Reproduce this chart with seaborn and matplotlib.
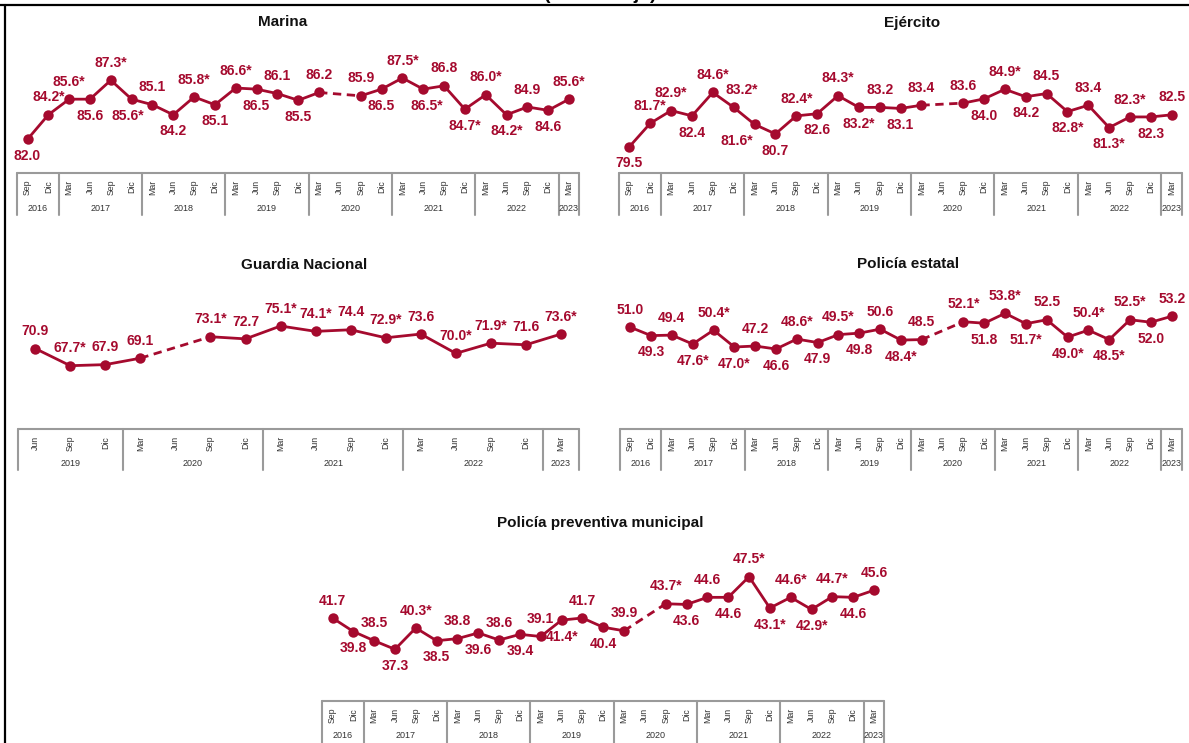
import matplotlib
matplotlib.use("Agg")
import matplotlib.pyplot as plt
import seaborn as sns
import pandas as pd
from matplotlib.lines import Line2D

# ---------------- data ----------------
months_long = ['Sep', 'Dic',
               'Mar', 'Jun', 'Sep', 'Dic',
               'Mar', 'Jun', 'Sep', 'Dic',
               'Mar', 'Jun', 'Sep', 'Dic',
               'Mar', 'Jun', 'Sep', 'Dic',
               'Mar', 'Jun', 'Sep', 'Dic',
               'Mar', 'Jun', 'Sep', 'Dic',
               'Mar']
years_long = ['2016', '2017', '2018', '2019', '2020', '2021', '2022', '2023']
year_quarters_long = [2, 4, 4, 4, 4, 4, 4, 1]

months_gn = ['Jun', 'Sep', 'Dic',
             'Mar', 'Jun', 'Sep', 'Dic',
             'Mar', 'Jun', 'Sep', 'Dic',
             'Mar', 'Jun', 'Sep', 'Dic',
             'Mar']
years_gn = ['2019', '2020', '2021', '2022', '2023']
year_quarters_gn = [3, 4, 4, 4, 1]

marina_vals = [82.0, 84.2, 85.6, 85.6, 87.3, 85.6, 85.1, 84.2, 85.8, 85.1, 86.6, 86.5, 86.1,
               85.5, 86.2, None, 85.9, 86.5, 87.5, 86.5, 86.8, 84.7, 86.0, 84.2, 84.9, 84.6, 85.6]
marina_sig = [0, 1, 1, 0, 1, 1, 0, 0, 1, 0, 1, 0, 0, 0, 0, 0, 0, 0, 1, 1, 0, 1, 1, 1, 0, 0, 1]

ejercito_vals = [79.5, 81.7, 82.9, 82.4, 84.6, 83.2, 81.6, 80.7, 82.4, 82.6, 84.3, 83.2, 83.2,
                 83.1, 83.4, None, 83.6, 84.0, 84.9, 84.2, 84.5, 82.8, 83.4, 81.3, 82.3, 82.3, 82.5]
ejercito_sig = [0, 1, 1, 0, 1, 1, 1, 0, 1, 0, 1, 1, 0, 0, 0, 0, 0, 0, 1, 0, 0, 1, 0, 1, 1, 0, 0]

guardia_vals = [70.9, 67.7, 67.9, 69.1, None, 73.1, 72.7, 75.1, 74.1, 74.4, 72.9, 73.6, 70.0,
                71.9, 71.6, 73.6]
guardia_sig = [0, 1, 0, 0, 0, 1, 0, 1, 1, 0, 1, 0, 1, 1, 0, 1]

estatal_vals = [51.0, 49.3, 49.4, 47.6, 50.4, 47.0, 47.2, 46.6, 48.6, 47.9, 49.5, 49.8, 50.6,
                48.4, 48.5, None, 52.1, 51.8, 53.8, 51.7, 52.5, 49.0, 50.4, 48.5, 52.5, 52.0, 53.2]
estatal_sig = [0, 0, 0, 1, 1, 1, 0, 0, 1, 0, 1, 0, 0, 1, 0, 0, 1, 0, 1, 1, 0, 1, 1, 1, 1, 0, 0]

municipal_vals = [41.7, 39.8, 38.5, 37.3, 40.3, 38.5, 38.8, 39.6, 38.6, 39.4, 39.1, 41.4, 41.7,
                  40.4, 39.9, None, 43.7, 43.6, 44.6, 44.6, 47.5, 43.1, 44.6, 42.9, 44.7, 44.6, 45.6]
municipal_sig = [0, 0, 0, 0, 1, 0, 0, 0, 0, 0, 0, 1, 0, 0, 0, 0, 1, 0, 0, 0, 1, 1, 1, 1, 1, 0, 0]

# ---------------- style ----------------
RED = '#A50A2E'
GRID = '#9a9a9a'
W, H = 1189, 743

sns.set_theme(style='white')
plt.rcParams['font.family'] = ['Liberation Sans', 'DejaVu Sans']

# label placement (a = above, b = below) and horizontal nudges (px)
side_marina = ['b', 'a', 'a', 'b', 'a', 'b', 'a', 'b', 'a', 'b', 'a', 'b', 'a', 'b', 'a', '-',
               'a', 'b', 'a', 'b', 'a', 'b', 'a', 'b', 'a', 'b', 'a']
side_ejercito = ['b', 'a', 'a', 'b', 'a', 'a', 'b', 'b', 'a', 'b', 'a', 'b', 'a', 'b', 'a', '-',
                 'a', 'b', 'a', 'b', 'a', 'b', 'a', 'b', 'a', 'b', 'a']
side_guardia = ['a'] * 16
side_alt = ['a', 'b', 'a', 'b', 'a', 'b', 'a', 'b', 'a', 'b', 'a', 'b', 'a', 'b', 'a', '-',
            'a', 'b', 'a', 'b', 'a', 'b', 'a', 'b', 'a', 'b', 'a']
dx_ejercito = {5: 8, 6: -18}
dx_marina = {5: -4, 19: 4}

fig = plt.figure(figsize=(W / 100, H / 100), dpi=100)


def frac_ax(left, top, right, bottom):
    return fig.add_axes([left / W, 1 - bottom / H, (right - left) / W, (bottom - top) / H])


def panel(title, title_xy, vals, sig, sides, months, years, yq, x0, x1, ref_a, ref_b,
          ax_top, tab_top, tab_bot, dx=None):
    n = len(vals)
    slot = (x1 - x0) / (n - 1)
    left, right = x0 - slot / 2, x1 + slot / 2
    # value -> pixel mapping
    (va, ya), (vb, yb) = ref_a, ref_b
    ppu = (yb - ya) / (va - vb)
    ymax = va + (ya - ax_top) / ppu
    ymin = vb - (tab_top - yb) / ppu
    ax = frac_ax(left, ax_top, right, tab_top)
    df = pd.DataFrame({'pos': list(range(n)), 'val': vals})
    gap = [i for i, v in enumerate(vals) if v is None][0]
    for seg in (df.iloc[:gap], df.iloc[gap + 1:]):
        sns.lineplot(data=seg, x='pos', y='val', ax=ax, color=RED, linewidth=2.0,
                     marker='o', markersize=7.5, markeredgewidth=0, estimator=None)
    bridge = df.iloc[[gap - 1, gap + 1]]
    sns.lineplot(data=bridge, x='pos', y='val', ax=ax, color=RED, linewidth=2.0,
                 linestyle=(0, (3, 2)), estimator=None)
    for i, (v, s, sd) in enumerate(zip(vals, sig, sides)):
        if v is None:
            continue
        txt = f'{v:.1f}' + ('*' if s else '')
        off = 12.5 if sd == 'a' else -12.0
        ddx = (dx or {}).get(i, 0) * 0.72
        ax.annotate(txt, (i, v), xytext=(ddx, off), textcoords='offset points',
                    ha='center', va='center', fontsize=10, fontweight='bold', color=RED)
    ax.set_xlim(-0.5, n - 0.5)
    ax.set_ylim(ymin, ymax)
    ax.axis('off')

    # category table
    tab = frac_ax(left, tab_top, right, tab_bot)
    tab.set_xlim(-0.5, n - 0.5)
    tab.set_ylim(1, 0)
    tab.axis('off')
    tab.plot([-0.5, n - 0.5], [0, 0], color=GRID, lw=1.5, clip_on=False)
    hgt = tab_bot - tab_top
    for i, m in enumerate(months):
        tab.text(i, 14 / hgt, m, rotation=90, ha='center', va='center',
                 fontsize=6.3, color='#333333')
    start = -0.5
    tab.plot([start, start], [0, 1], color=GRID, lw=1.5, clip_on=False)
    for y, q in zip(years, yq):
        end = start + q
        tab.plot([end, end], [0, 1], color=GRID, lw=1.5, clip_on=False)
        tab.text((start + end) / 2, 35 / hgt, y, ha='center', va='center',
                 fontsize=6.5, color='#333333')
        start = end
    fig.text(title_xy[0] / W, 1 - title_xy[1] / H, title, ha='center', va='center',
             fontsize=11, fontweight='bold', color='#111111')


panel('Marina', (283, 22), marina_vals, marina_sig, side_marina, months_long, years_long,
      year_quarters_long, 27.5, 569, (87.5, 78), (82.0, 139.3), 35, 173, 215, dx=dx_marina)
panel('Ejército', (912, 23), ejercito_vals, ejercito_sig, side_ejercito, months_long,
      years_long, year_quarters_long, 629.4, 1171.7, (84.9, 89.3), (79.5, 146.7), 35, 173, 215,
      dx=dx_ejercito)
panel('Guardia Nacional', (304, 265), guardia_vals, guardia_sig, side_guardia, months_gn,
      years_gn, year_quarters_gn, 35.2, 561, (75.1, 326), (67.7, 365.7), 280, 429, 470)
panel('Policía estatal', (908, 264), estatal_vals, estatal_sig, side_alt, months_long,
      years_long, year_quarters_long, 630.2, 1171.7, (53.8, 313.3), (46.6, 349), 280, 429, 470)
panel('Policía preventiva municipal', (600, 523), municipal_vals, municipal_sig, side_alt,
      months_long, years_long, year_quarters_long, 332.5, 874, (47.5, 576.7), (37.3, 649.3),
      540, 701, 744)

# frame lines and the heading that the reference shows clipped at the top edge
fig.add_artist(Line2D([0, 1], [1 - 5 / H, 1 - 5 / H], color='black', lw=1.6))
fig.add_artist(Line2D([5 / W, 5 / W], [0, 1 - 5 / H], color='black', lw=1.6))
fig.text(600 / W, 1 + 1 / H, '(Porcentaje)', ha='center', va='baseline',
         fontsize=14, fontweight='bold', color='black')

fig.savefig('out.png', dpi=100)
